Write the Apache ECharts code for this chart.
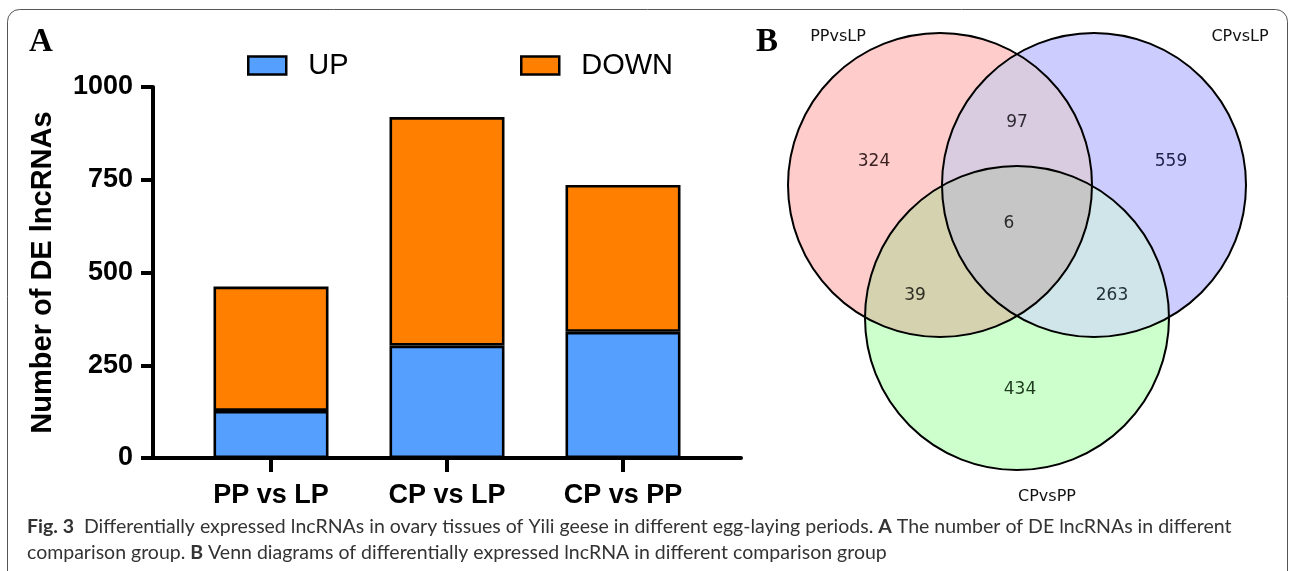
<!DOCTYPE html>
<html><head><meta charset="utf-8">
<script src="https://cdn.jsdelivr.net/npm/echarts@6/dist/echarts.min.js"></script>
<style>html,body{margin:0;padding:0;background:#fff}#c{width:1292px;height:571px}</style>
</head><body><div id="c"></div>
<script>
// ---- data ----
const categories = ['PP vs LP', 'CP vs LP', 'CP vs PP'];
const upValues = [127, 303, 340];
const downValues = [335, 616, 396];
const yTicks = [0, 250, 500, 750, 1000];
const seriesNames = ['UP', 'DOWN'];
const vennSetNames = ['PPvsLP', 'CPvsLP', 'CPvsPP'];
const vennRegionKeys = ['P', 'PB', 'B', 'PBG', 'PG', 'BG', 'G'];
const vennCounts = [324, 97, 559, 6, 39, 263, 434];

// ---- layout / styles ----
const chart = echarts.init(document.getElementById('c'), null, {renderer: 'canvas'});
const boldFont = 'Liberation Sans, Arial, sans-serif';

// Venn geometry
const R = 152;
const CEN = {P: [940, 185], B: [1094, 185], G: [1017, 318]};
const centroid = [(CEN.P[0] + CEN.B[0] + CEN.G[0]) / 3, (CEN.P[1] + CEN.B[1] + CEN.G[1]) / 3];
function inter(c1, c2, ref) {
  const dx = c2[0] - c1[0], dy = c2[1] - c1[1], d = Math.hypot(dx, dy);
  const a = d / 2, h = Math.sqrt(R * R - a * a);
  const mx = c1[0] + dx / 2, my = c1[1] + dy / 2;
  const p1 = [mx - h * dy / d, my + h * dx / d], p2 = [mx + h * dy / d, my - h * dx / d];
  const d1 = Math.hypot(p1[0] - ref[0], p1[1] - ref[1]), d2 = Math.hypot(p2[0] - ref[0], p2[1] - ref[1]);
  return d1 < d2 ? {inn: p1, out: p2} : {inn: p2, out: p1};
}
const PB = inter(CEN.P, CEN.B, CEN.G), PG = inter(CEN.P, CEN.G, CEN.B), BG = inter(CEN.B, CEN.G, CEN.P);
function arcPts(c, from, to, mode) {
  const a0 = Math.atan2(from[1] - c[1], from[0] - c[0]);
  const a1 = Math.atan2(to[1] - c[1], to[0] - c[0]);
  let d = a1 - a0;
  while (d > Math.PI) d -= 2 * Math.PI;
  while (d <= -Math.PI) d += 2 * Math.PI;
  if (mode === 'outer') {
    const alt = d > 0 ? d - 2 * Math.PI : d + 2 * Math.PI;
    const mid = dd => { const a = a0 + dd / 2; return Math.hypot(c[0] + R * Math.cos(a) - centroid[0], c[1] + R * Math.sin(a) - centroid[1]); };
    if (mid(alt) > mid(d)) d = alt;
  }
  const n = Math.max(10, Math.ceil(Math.abs(d) * 40));
  const pts = [];
  for (let i = 0; i < n; i++) {
    const a = a0 + d * i / n;
    pts.push([c[0] + R * Math.cos(a), c[1] + R * Math.sin(a)]);
  }
  return pts;
}
function region(arcs) {
  let pts = [];
  arcs.forEach(a => { pts = pts.concat(arcPts(CEN[a[0]], a[1], a[2], a[3])); });
  return pts;
}
const regionDefs = {
  P:   [['P', PB.out, PG.out, 'outer'], ['G', PG.out, BG.inn], ['B', BG.inn, PB.out]],
  B:   [['B', PB.out, BG.out, 'outer'], ['G', BG.out, PG.inn], ['P', PG.inn, PB.out]],
  G:   [['G', PG.out, BG.out, 'outer'], ['B', BG.out, PB.inn], ['P', PB.inn, PG.out]],
  PB:  [['B', PB.out, BG.inn], ['G', BG.inn, PG.inn], ['P', PG.inn, PB.out]],
  PG:  [['G', PG.out, BG.inn], ['B', BG.inn, PB.inn], ['P', PB.inn, PG.out]],
  BG:  [['G', BG.out, PG.inn], ['P', PG.inn, PB.inn], ['B', PB.inn, BG.out]],
  PBG: [['G', BG.inn, PG.inn], ['P', PG.inn, PB.inn], ['B', PB.inn, BG.inn]]
};
const regionColors = {P: '#FFCCCC', B: '#CCCCFF', G: '#CCFFCC', PB: '#DACCE0', PG: '#D5D2B0', BG: '#D0E5E9', PBG: '#C6C6C6'};
const labelPos = {P: [874, 162], PB: [1017, 123], B: [1171, 162], PBG: [1009, 224], PG: [915, 296], BG: [1112, 296], G: [1020, 390]};
const labelColors = {P: '#3a2222', PB: '#2e2a33', B: '#22224a', PBG: '#2a2a2a', PG: '#2e2e22', BG: '#22303a', G: '#1f3a1f'};
const setLabelPos = [[838, 37], [1240, 37], [1047, 497]];

const graphics = [];
graphics.push({type: 'rect', shape: {x: 7.5, y: 9.5, width: 1280, height: 640, r: 12}, style: {fill: 'none', stroke: '#555', lineWidth: 1}, z: 1});
vennRegionKeys.forEach(k => {
  graphics.push({type: 'polygon', shape: {points: region(regionDefs[k])}, style: {fill: regionColors[k], stroke: regionColors[k], lineWidth: 0.5}, z: 2});
});
['P', 'B', 'G'].forEach(k => {
  graphics.push({type: 'circle', shape: {cx: CEN[k][0], cy: CEN[k][1], r: R}, style: {fill: 'none', stroke: '#000', lineWidth: 2}, z: 3});
});
vennRegionKeys.forEach((k, i) => {
  graphics.push({type: 'text', x: labelPos[k][0], y: labelPos[k][1], z: 4,
    style: {text: String(vennCounts[i]), fill: labelColors[k], font: '17px "DejaVu Sans", sans-serif', textAlign: 'center', textVerticalAlign: 'middle'}});
});
vennSetNames.forEach((s, i) => {
  graphics.push({type: 'text', x: setLabelPos[i][0], y: setLabelPos[i][1], z: 4,
    style: {text: s, fill: '#111', font: '16px "DejaVu Sans", sans-serif', textAlign: 'center', textVerticalAlign: 'middle'}});
});
graphics.push({type: 'text', x: 41, y: 42, z: 4, style: {text: 'A', fill: '#000', font: 'bold 33px "Liberation Serif", serif', textAlign: 'center', textVerticalAlign: 'middle'}});
graphics.push({type: 'text', x: 767, y: 42, z: 4, style: {text: 'B', fill: '#000', font: 'bold 33px "Liberation Serif", serif', textAlign: 'center', textVerticalAlign: 'middle'}});
const capFont = '19.5px Lato, sans-serif';
const capRich = {b: {fontWeight: 'bold', fontSize: 19.5, fontFamily: 'Lato, sans-serif', fill: '#333'}};
graphics.push({type: 'text', x: 27, y: 527, z: 4, style: {
  text: '{b|Fig. 3}  Differentially expressed lncRNAs in ovary tissues of Yili geese in different egg-laying periods. {b|A} The number of DE lncRNAs in different',
  font: capFont, fill: '#333', textVerticalAlign: 'middle', rich: capRich}});
graphics.push({type: 'text', x: 27, y: 553, z: 4, style: {
  text: 'comparison group. {b|B} Venn diagrams of differentially expressed lncRNA in different comparison group',
  font: capFont, fill: '#333', textVerticalAlign: 'middle', rich: capRich}});

const barBorder = {borderColor: '#000', borderWidth: 2.6};
const legendCommon = {itemWidth: 38, itemHeight: 18, icon: 'rect', top: 51, padding: 0,
  itemStyle: {borderColor: '#000', borderWidth: 2.5},
  textStyle: {fontSize: 29, fontFamily: boldFont, color: '#000', padding: [0, 0, 0, 17]}};

const option = {
  animation: false,
  backgroundColor: '#fff',
  legend: [
    Object.assign({data: [seriesNames[0]], left: 247}, legendCommon),
    Object.assign({data: [seriesNames[1]], left: 520}, legendCommon)
  ],
  grid: [
    {left: 183, right: 581, top: 87, bottom: 113, containLabel: false},
    {left: 153, right: 551, top: 87, bottom: 113, containLabel: false}
  ],
  xAxis: [
    {
      type: 'category', data: categories, gridIndex: 0,
      axisLine: {show: false},
      axisTick: {show: true, alignWithLabel: true, length: 14, lineStyle: {color: '#000', width: 4}},
      axisLabel: {fontSize: 27, fontWeight: 'bold', fontFamily: boldFont, color: '#000', margin: 24}
    },
    {
      type: 'value', gridIndex: 1, min: 0, max: 1,
      splitLine: {show: false}, axisTick: {show: false}, axisLabel: {show: false},
      axisLine: {show: true, onZero: false, lineStyle: {color: '#000', width: 4}}
    }
  ],
  yAxis: [
    {
      type: 'value', gridIndex: 0, offset: 30,
      min: yTicks[0], max: yTicks[yTicks.length - 1], interval: yTicks[1] - yTicks[0],
      splitLine: {show: false},
      axisLine: {show: true, lineStyle: {color: '#000', width: 4}},
      axisTick: {show: true, length: 12, lineStyle: {color: '#000', width: 4}},
      axisLabel: {fontSize: 27, fontWeight: 'bold', fontFamily: boldFont, color: '#000', margin: 20, formatter: v => String(v)},
      name: 'Number of DE lncRNAs', nameLocation: 'middle', nameGap: 96,
      nameTextStyle: {fontSize: 29, fontWeight: 'bold', fontFamily: boldFont, color: '#000'}
    },
    {
      type: 'value', gridIndex: 1, min: 0, max: 1, show: false
    }
  ],
  series: [
    {name: seriesNames[0], type: 'bar', stack: 'total', barWidth: 115,
      data: upValues,
      itemStyle: Object.assign({color: '#55A0FF'}, barBorder)},
    {name: seriesNames[1], type: 'bar', stack: 'total', barWidth: 115,
      data: downValues,
      itemStyle: Object.assign({color: '#FF8000'}, barBorder)}
  ],
  graphic: graphics
};
chart.setOption(option);
</script></body></html>
